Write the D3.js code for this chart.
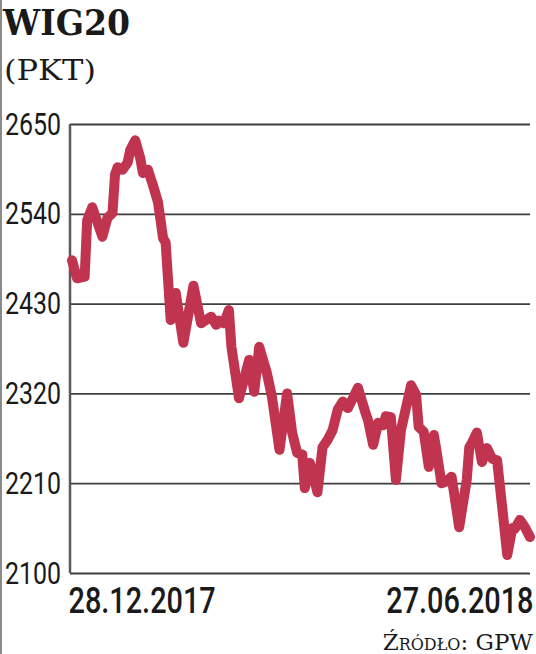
<!DOCTYPE html>
<html>
<head>
<meta charset="utf-8">
<script src="https://cdn.jsdelivr.net/npm/d3@7/dist/d3.min.js"></script>
<style>
  html, body { margin: 0; padding: 0; background: #ffffff; }
  svg { display: block; }
</style>
</head>
<body>
<svg id="chart" width="536" height="654"></svg>
<script>
// ---- data ----
const dates = [
  "2017-12-28","2017-12-30","2018-01-02","2018-01-03","2018-01-05","2018-01-07","2018-01-09","2018-01-11","2018-01-13","2018-01-14",
  "2018-01-15","2018-01-17","2018-01-19","2018-01-20","2018-01-22","2018-01-24","2018-01-25","2018-01-27","2018-01-29","2018-01-31",
  "2018-02-02","2018-02-03","2018-02-05","2018-02-07","2018-02-10","2018-02-14","2018-02-17","2018-02-21","2018-02-23","2018-02-24",
  "2018-02-26","2018-02-28","2018-03-01","2018-03-04","2018-03-08","2018-03-10","2018-03-12","2018-03-15","2018-03-17","2018-03-20",
  "2018-03-23","2018-03-25","2018-03-27","2018-03-29","2018-03-30","2018-04-01","2018-04-04","2018-04-06","2018-04-08","2018-04-10",
  "2018-04-12","2018-04-14","2018-04-16","2018-04-18","2018-04-20","2018-04-23","2018-04-24","2018-04-26","2018-04-28","2018-04-30",
  "2018-05-01","2018-05-03","2018-05-05","2018-05-07","2018-05-11","2018-05-13","2018-05-14","2018-05-16","2018-05-18","2018-05-20",
  "2018-05-21","2018-05-23","2018-05-25","2018-05-27","2018-05-28","2018-05-30","2018-06-02","2018-06-03","2018-06-04","2018-06-06",
  "2018-06-08","2018-06-10","2018-06-12","2018-06-14","2018-06-16","2018-06-18","2018-06-20","2018-06-21","2018-06-23","2018-06-25",
  "2018-06-27"
];
const values = [
  2483, 2461, 2463, 2532, 2548, 2530, 2512, 2535, 2541, 2588,
  2597, 2594, 2603, 2618, 2630, 2608, 2590, 2594, 2575, 2554,
  2510, 2505, 2410, 2443, 2382, 2452, 2406, 2414, 2404, 2409,
  2406, 2422, 2377, 2314, 2361, 2322, 2377, 2345, 2316, 2251,
  2320, 2272, 2247, 2245, 2204, 2235, 2199, 2254, 2263, 2275,
  2300, 2310, 2302, 2314, 2327, 2296, 2287, 2257, 2284, 2281,
  2292, 2291, 2214, 2275, 2330, 2318, 2279, 2273, 2230, 2269,
  2251, 2210, 2212, 2218, 2198, 2156, 2214, 2254, 2259, 2272,
  2236, 2253, 2240, 2238, 2181, 2122, 2155, 2154, 2165, 2156,
  2144
];
const yTicks = [2100, 2210, 2320, 2430, 2540, 2650];
const xTickLabels = ["28.12.2017", "27.06.2018"];
const title = "WIG20";
const subtitle = "(PKT)";
const source = "Źródło: GPW";

// ---- chart ----
const parse = d3.timeParse("%Y-%m-%d");
const data = dates.map((d, i) => ({ date: parse(d), value: values[i] }));

const svg = d3.select("#chart");
const plotLeft = 70, plotRight = 530, plotTop = 124, plotBottom = 573;

const x = d3.scaleTime()
  .domain(d3.extent(data, d => d.date))
  .range([72, plotRight]);
const y = d3.scaleLinear()
  .domain([2100, 2650])
  .range([plotBottom, plotTop]);

// left scan edge
svg.append("rect").attr("x", 0).attr("y", 0).attr("width", 2).attr("height", 654).attr("fill", "#8a8a8a");

// Title
svg.append("text")
  .attr("x", 3).attr("y", 35)
  .attr("font-family", "DejaVu Serif")
  .attr("font-weight", "bold")
  .attr("font-size", 35)
  .attr("textLength", 127).attr("lengthAdjust", "spacingAndGlyphs")
  .attr("fill", "#1a1a1a")
  .text(title);
svg.append("text")
  .attr("x", 4).attr("y", 80)
  .attr("font-family", "DejaVu Serif")
  .attr("font-size", 28)
  .attr("textLength", 92).attr("lengthAdjust", "spacingAndGlyphs")
  .attr("fill", "#1a1a1a")
  .text(subtitle);

// Y axis with gridlines
const yAxis = d3.axisLeft(y)
  .tickValues(yTicks)
  .tickSize(-(plotRight - plotLeft))
  .tickFormat(d3.format("d"));
const gy = svg.append("g")
  .attr("transform", `translate(${plotLeft},0)`)
  .call(yAxis);
gy.select(".domain").remove();
gy.selectAll(".tick line")
  .attr("stroke", "#3f3f3f")
  .attr("stroke-width", 1.8);
gy.selectAll(".tick text")
  .attr("x", 0).attr("dy", null)
  .attr("text-anchor", "start")
  .attr("transform", `translate(${5 - plotLeft},10) scale(0.78,1)`)
  .attr("font-family", "Roboto")
  .attr("font-size", 32)
  .attr("fill", "#1a1a1a");

// vertical axis line
svg.append("line")
  .attr("x1", plotLeft).attr("x2", plotLeft)
  .attr("y1", y(2650)).attr("y2", y(2100))
  .attr("stroke", "#5a5a5a").attr("stroke-width", 2.5);

// X axis labels
const firstDate = data[0].date, lastDate = data[data.length - 1].date;
const xAxis = d3.axisBottom(x)
  .tickValues([firstDate, lastDate])
  .tickSize(0)
  .tickFormat((d, i) => xTickLabels[i]);
const gx = svg.append("g")
  .attr("transform", `translate(0,${plotBottom})`)
  .call(xAxis);
gx.select(".domain").remove();
gx.selectAll(".tick text")
  .attr("x", 0).attr("y", 0).attr("dy", null)
  .attr("font-family", "Roboto")
  .attr("font-weight", 500)
  .attr("font-size", 37)
  .attr("fill", "#1a1a1a")
  .attr("text-anchor", (d, i) => i === 0 ? "start" : "end")
  .attr("transform", (d, i) => i === 0 ? "translate(-4,40) scale(0.78,1)" : "translate(3,40) scale(0.78,1)");

// Line
const line = d3.line()
  .x(d => x(d.date))
  .y(d => y(d.value));
svg.append("path")
  .datum(data)
  .attr("d", line)
  .attr("fill", "none")
  .attr("stroke", "#c0344f")
  .attr("stroke-width", 10)
  .attr("stroke-linejoin", "round")
  .attr("stroke-linecap", "round");

// Source
svg.append("text")
  .attr("x", 533).attr("y", 650)
  .attr("text-anchor", "end")
  .attr("font-family", "DejaVu Serif")
  .attr("font-size", 23)
  .style("font-variant", "small-caps")
  .attr("fill", "#1a1a1a")
  .text(source);
</script>
</body>
</html>
